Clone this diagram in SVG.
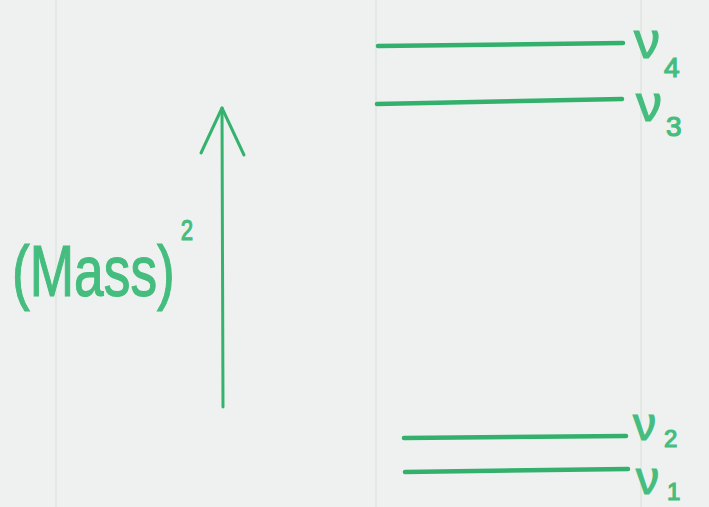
<svg xmlns="http://www.w3.org/2000/svg" width="709" height="507" viewBox="0 0 709 507">
  <style>
    .lvl { stroke: #33b06c; stroke-width: 4.5; stroke-linecap: round; fill: none; }
    .ax { stroke: #36b26f; stroke-width: 3; stroke-linecap: round; stroke-linejoin: round; fill: none; }
    .lbl { font-family: "Liberation Sans", "DejaVu Sans", sans-serif; fill: #44bd7e; stroke: #44bd7e; stroke-width: 1.2; }
    .paper { stroke: #e3e8e5; stroke-width: 2; }
  </style>
  <rect x="0" y="0" width="709" height="507" fill="#eef1ef"/>
  <g id="paper">
    <line class="paper" x1="56" y1="0" x2="56" y2="507"/>
    <line class="paper" x1="376" y1="0" x2="376" y2="507"/>
    <line class="paper" x1="641" y1="0" x2="641" y2="507"/>
  </g>
  <g id="axis-label" transform="translate(12,296) scale(0.74,1)">
    <text class="lbl" x="0" y="0" font-size="72">(Mass)<tspan dx="8" dy="-56" font-size="30">2</tspan></text>
  </g>
  <g id="connectors">
    <path class="ax" d="M223 407 L222 108"/>
    <path class="ax" d="M201 153 L222 108 L244 155"/>
  </g>
  <g id="nu4">
    <line class="lvl" x1="378" y1="46" x2="623" y2="43"/>
    <text class="lbl" x="634" y="58" font-size="52">ν</text>
    <text class="lbl" x="664" y="77" font-size="28">4</text>
  </g>
  <g id="nu3">
    <line class="lvl" x1="377" y1="104" x2="622" y2="99"/>
    <text class="lbl" x="636" y="121" font-size="52">ν</text>
    <text class="lbl" x="666" y="136" font-size="28">3</text>
  </g>
  <g id="nu2">
    <line class="lvl" x1="404" y1="438" x2="626" y2="436"/>
    <text class="lbl" x="633" y="440" font-size="46">ν</text>
    <text class="lbl" x="664" y="447" font-size="24">2</text>
  </g>
  <g id="nu1">
    <line class="lvl" x1="405" y1="472" x2="628" y2="469"/>
    <text class="lbl" x="636" y="494" font-size="46">ν</text>
    <text class="lbl" x="667" y="500" font-size="24">1</text>
  </g>
</svg>
